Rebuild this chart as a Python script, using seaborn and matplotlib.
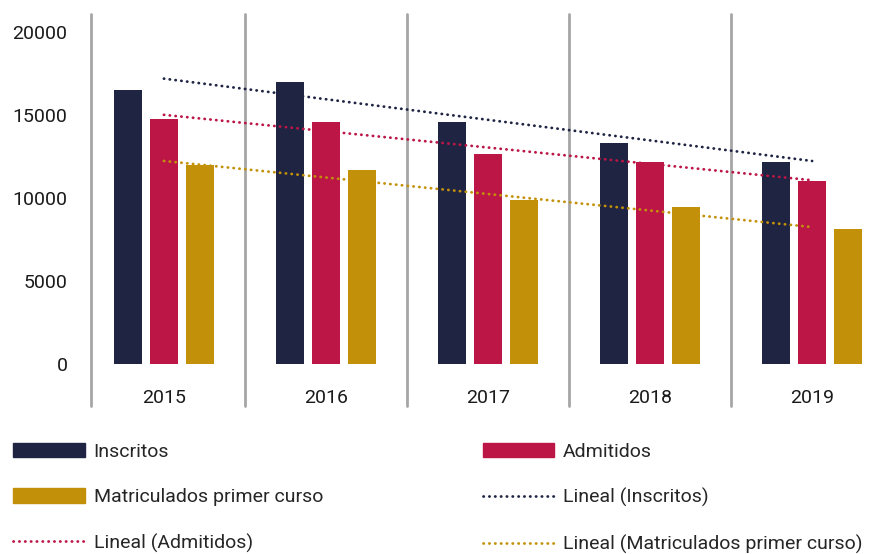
import numpy as np
import pandas as pd
import matplotlib
matplotlib.use("Agg")
import matplotlib.pyplot as plt
import seaborn as sns
from matplotlib.patches import Patch
from matplotlib.lines import Line2D

# ===============================
# Data
# ===============================
years = ["2015", "2016", "2017", "2018", "2019"]
inscritos = [16500, 17000, 14600, 13300, 12150]
admitidos = [14750, 14600, 12650, 12150, 11050]
matriculados = [12000, 11700, 9900, 9450, 8150]

series = ["Inscritos", "Admitidos", "Matriculados primer curso"]
colors = ["#1e2442", "#bc1646", "#c3900a"]

df = pd.DataFrame({
    "year": years * 3,
    "serie": np.repeat(series, len(years)),
    "valor": inscritos + admitidos + matriculados,
})

# ===============================
# Plot
# ===============================
sns.set_theme(style="white")
plt.rcParams["font.family"] = ["Roboto", "DejaVu Sans"]

fig = plt.figure(figsize=(8.85, 5.54), dpi=100)
ax = fig.add_axes([91 / 885, 190 / 554, (885 - 91) / 885, 350 / 554])

sns.barplot(data=df, x="year", y="valor", hue="serie", palette=colors,
            width=0.667, gap=0.22, ax=ax, legend=False, saturation=1,
            edgecolor="none")

# linear trend lines
dots = dict(linestyle=(0, (0.1, 2)), lw=2, dash_capstyle="round")
for vals, c in zip([inscritos, admitidos, matriculados], colors):
    sns.regplot(x=np.arange(len(years)), y=np.array(vals), scatter=False,
                ci=None, truncate=True, ax=ax, color=c, line_kws=dots)

ax.set_xlim(-0.45, 4.45)
ax.set_ylim(0, 21084)
ax.set_yticks([0, 5000, 10000, 15000, 20000])
ax.set_xticks(range(len(years)))
ax.set_xticklabels(years)
ax.set_xlabel("")
ax.set_ylabel("")
for s in ax.spines.values():
    s.set_visible(False)
ax.tick_params(axis="y", length=0, pad=17, labelsize=14, labelcolor="#1a1a1a")
ax.tick_params(axis="x", length=0, pad=18, labelsize=14, labelcolor="#1a1a1a")

# category dividers
for x in [-0.45, 0.5, 1.5, 2.5, 3.5]:
    ax.axvline(x, ymin=-42 / 350, ymax=1, color="#a6a6a6", lw=2, clip_on=False, zorder=0)

# legend
handles = [
    Patch(color=colors[0]),
    Patch(color=colors[2]),
    Line2D([], [], color=colors[1], **dots),
    Patch(color=colors[1]),
    Line2D([], [], color=colors[0], **dots),
    Line2D([], [], color=colors[2], **dots),
]
labels = ["Inscritos", "Matriculados primer curso", "Lineal (Admitidos)",
          "Admitidos", "Lineal (Inscritos)", "Lineal (Matriculados primer curso)"]
fig.legend(handles, labels, loc="upper left", bbox_to_anchor=(13 / 885, 1 - 443 / 554),
           ncol=2, frameon=False, fontsize=14, handlelength=3.7, handleheight=0.75,
           handletextpad=0.45, columnspacing=8.2, labelspacing=1.4,
           borderpad=0, borderaxespad=0)

fig.savefig("out.png", dpi=100)
